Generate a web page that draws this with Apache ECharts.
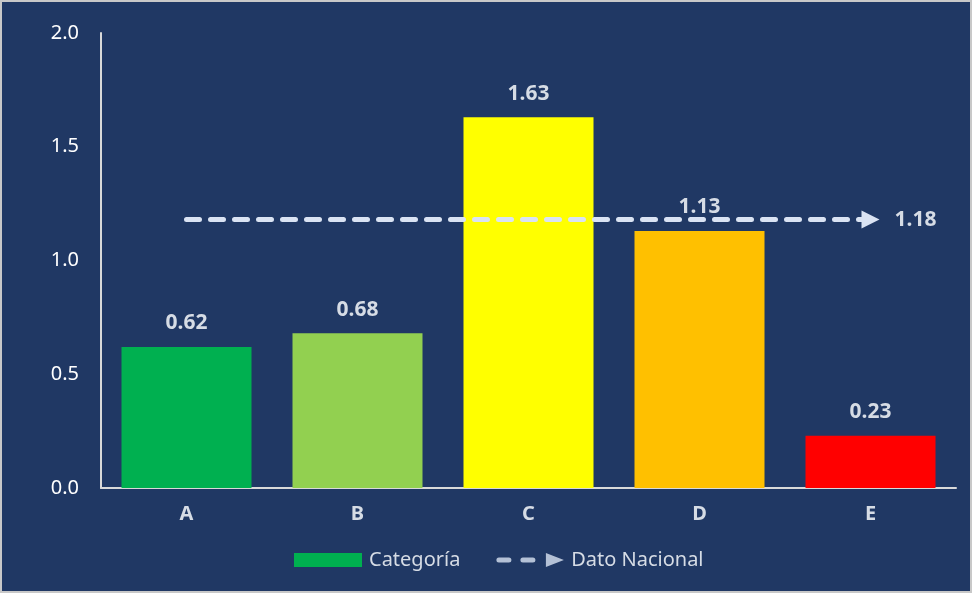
<!DOCTYPE html>
<html><head><meta charset="utf-8">
<script src="https://cdn.jsdelivr.net/npm/echarts@6/dist/echarts.min.js"></script>
<style>html,body{margin:0;padding:0;background:#203864;}#c{width:972px;height:593px;}</style>
</head><body><div id="c"></div>
<script>
const categories = ['A', 'B', 'C', 'D', 'E'];
const values = [0.62, 0.68, 1.63, 1.13, 0.23];
const barColors = ['#00B050', '#92D050', '#FFFF00', '#FFC000', '#FF0000'];
const nationalValue = 1.18;
const yTicks = [0, 0.5, 1.0, 1.5, 2.0];
const seriesNames = ['Categoría', 'Dato Nacional'];

const chart = echarts.init(document.getElementById('c'));
const lightText = '#D6DCE5';
chart.setOption({
  backgroundColor: '#203864',
  animation: false,
  graphic: [{type:'rect', shape:{x:1,y:1,width:970,height:591}, style:{fill:null, stroke:'#C8C8C8', lineWidth:2}, silent:true}],
  grid: {left: 101, right: 16, top: 33, bottom: 105},
  legend: {
    top: 550, left: 294, padding: 0,
    itemWidth: 68, itemHeight: 14, itemGap: 36,
    textStyle: {color: lightText, fontFamily: 'Noto Sans', fontSize: 20, padding: [0, 0, 0, 2]},
    data: [
      {name: seriesNames[0], icon: 'rect', itemStyle: {color: '#00B050'}},
      {name: seriesNames[1], icon: 'path://M3,4.5 h10 a2.5,2.5 0 0 1 0,5 h-10 a2.5,2.5 0 0 1 0,-5 z M27,4.5 h10 a2.5,2.5 0 0 1 0,5 h-10 a2.5,2.5 0 0 1 0,-5 z M50,0 L68,7 L50,14 z', itemStyle: {color: '#DAE3F3'}}
    ]
  },
  xAxis: {
    type: 'category', data: categories,
    axisLine: {lineStyle: {color: '#D9D9D9', width: 2}},
    axisTick: {show: false},
    axisLabel: {color: lightText, fontFamily: 'Noto Sans', fontSize: 20, fontWeight: 'bold', margin: 16}
  },
  yAxis: {
    type: 'value', min: 0, max: 2, interval: 0.5,
    axisLine: {show: true, lineStyle: {color: '#D9D9D9', width: 2}},
    axisTick: {show: false},
    splitLine: {show: false},
    axisLabel: {color: '#FFFFFF', fontFamily: 'Noto Sans', fontSize: 20, margin: 22,
      formatter: v => v.toFixed(1)}
  },
  series: [
    {
      name: seriesNames[0], type: 'bar', barWidth: 130,
      itemStyle: {color: '#00B050'},
      data: values.map((v, i) => ({value: v, itemStyle: {color: barColors[i]}})),
      label: {show: true, position: 'top', distance: 13, color: lightText,
        fontFamily: 'Noto Sans', fontSize: 21, fontWeight: 'bold',
        formatter: p => p.value.toFixed(2)},
      z: 2
    },
    {
      name: seriesNames[1], type: 'scatter', data: [],
      itemStyle: {color: '#DAE3F3'},
      markLine: {
        silent: true, z: 5,
        symbol: ['none', 'triangle'], symbolSize: 18,
        lineStyle: {color: '#DAE3F3', width: 5, type: [13, 11], cap: 'round'},
        label: {show: true, position: 'end', distance: 24, color: lightText,
          fontFamily: 'Noto Sans', fontSize: 21, fontWeight: 'bold',
          formatter: () => nationalValue.toFixed(2)},
        data: [[{coord: [categories[0], nationalValue]}, {coord: [categories[4], nationalValue]}]]
      }
    }
  ]
});
</script></body></html>
